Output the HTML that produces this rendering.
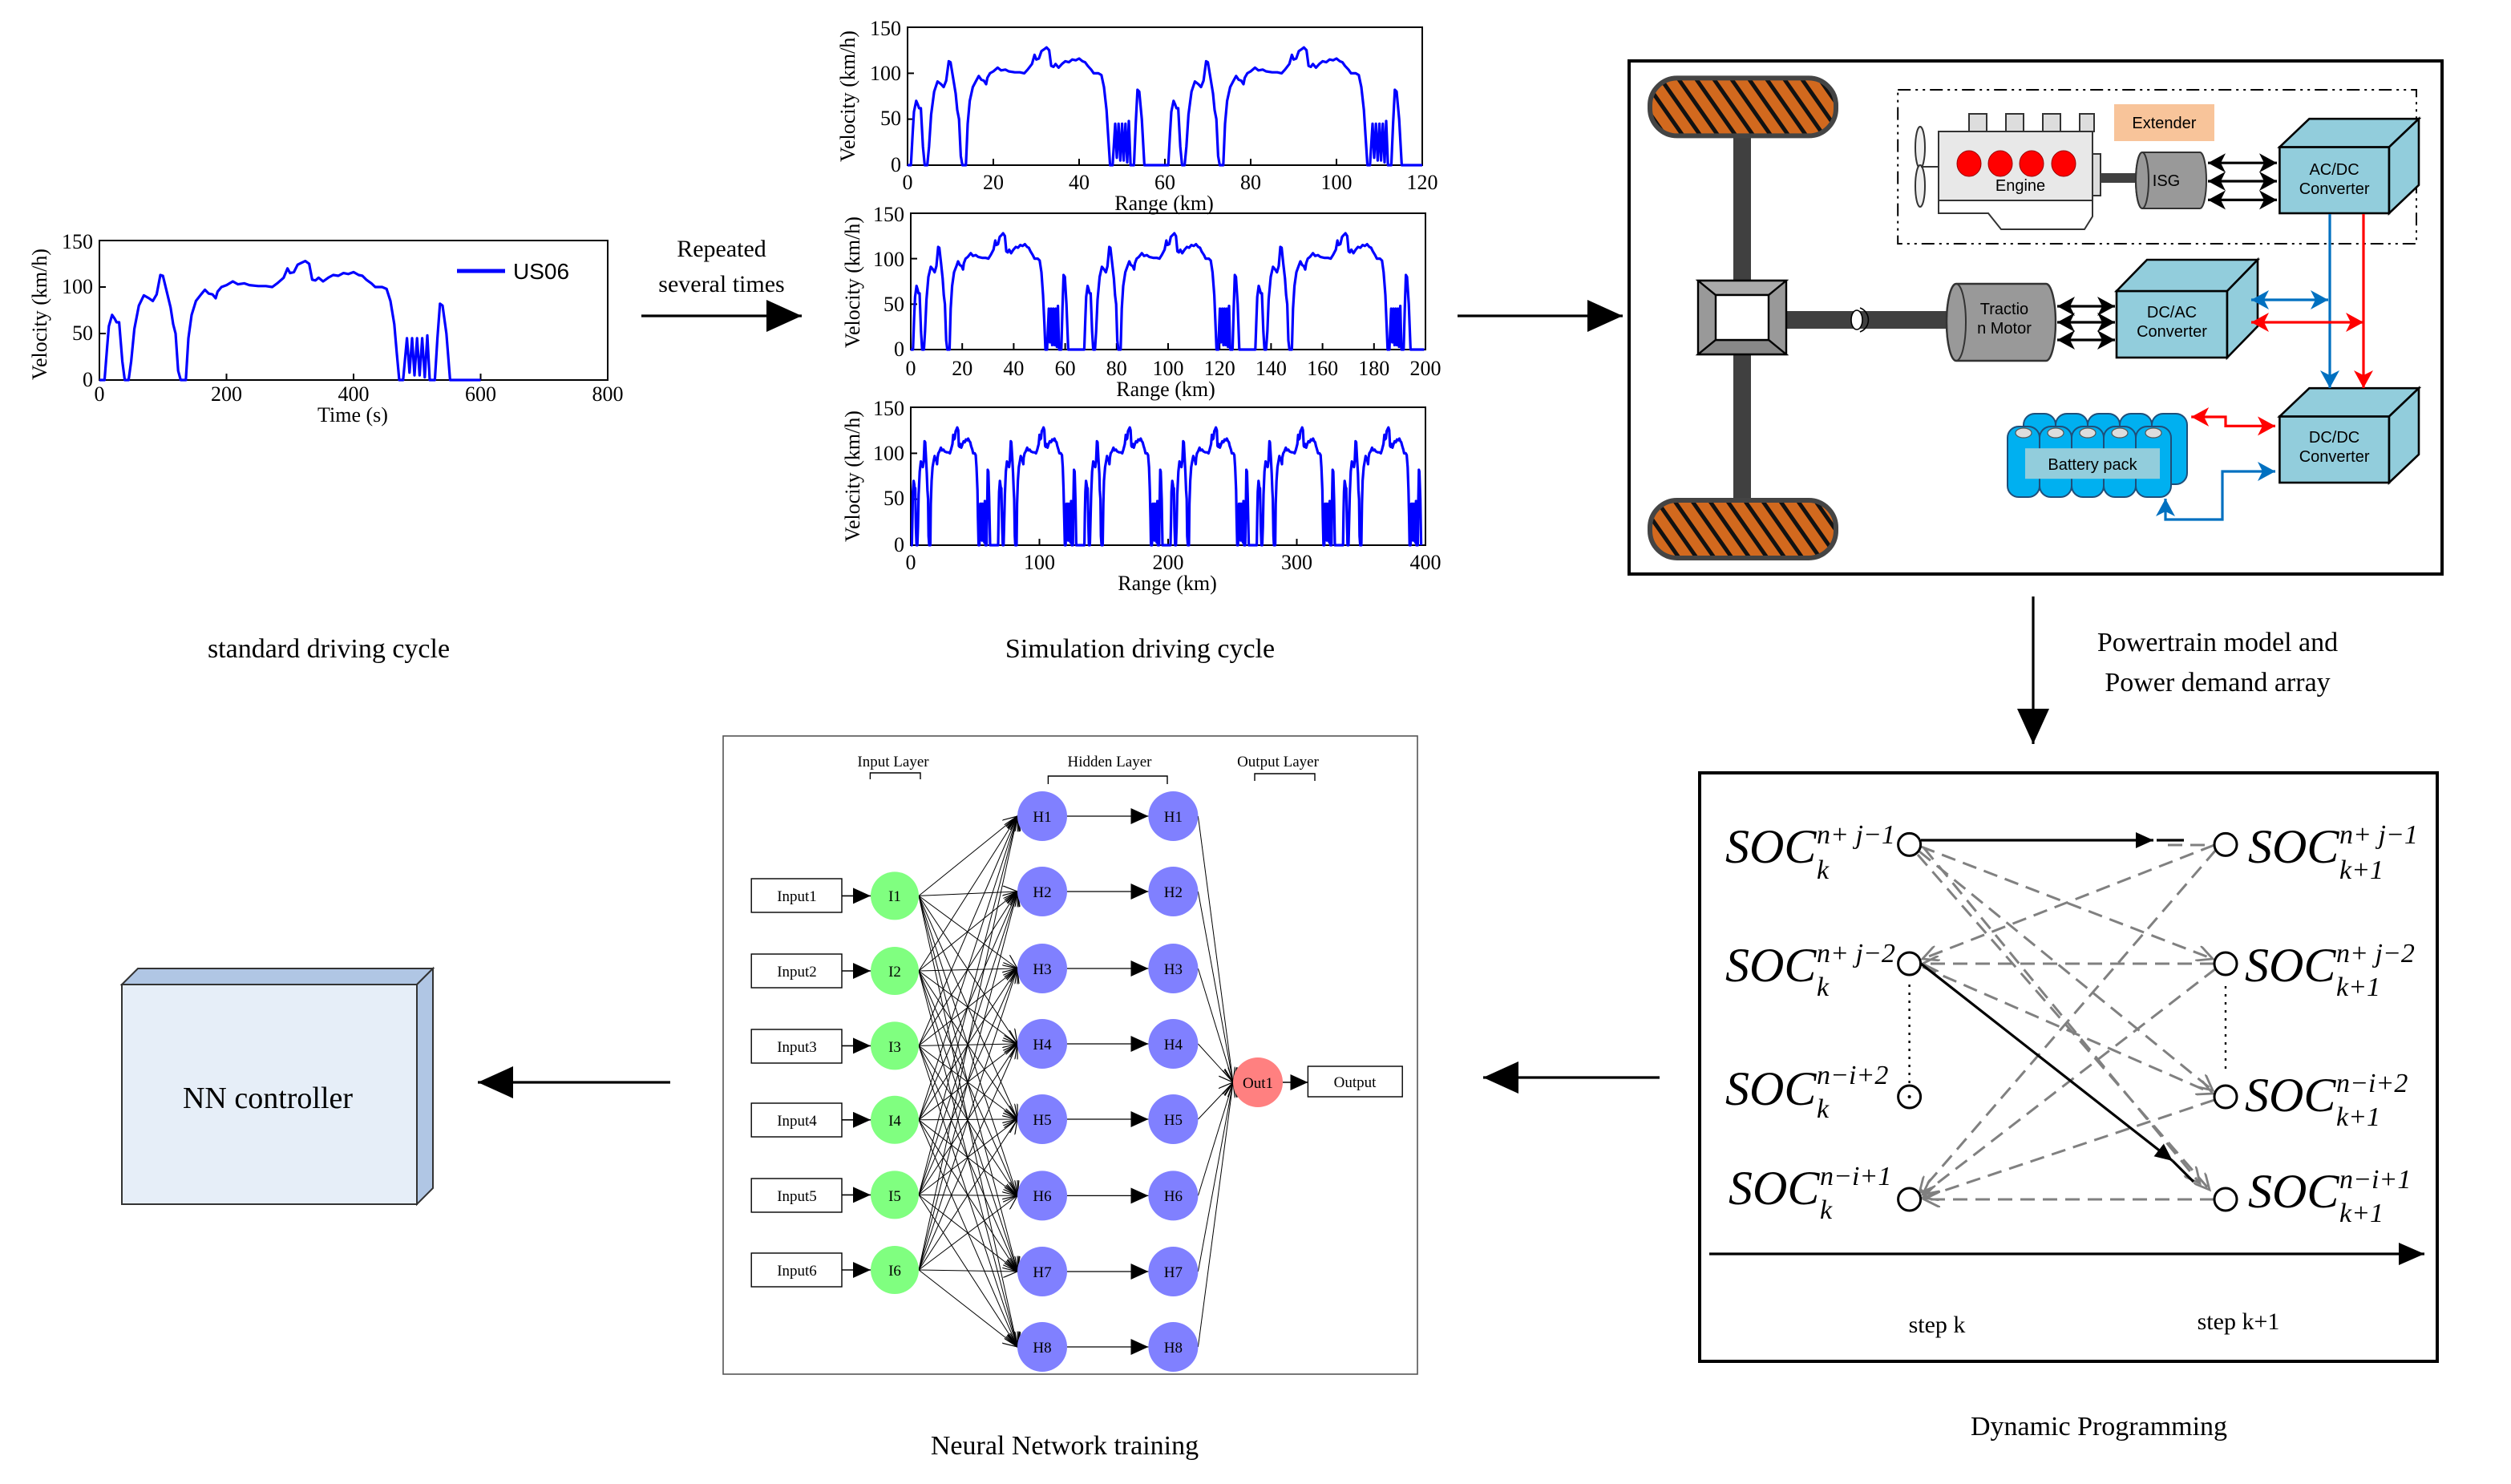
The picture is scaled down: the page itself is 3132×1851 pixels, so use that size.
<!DOCTYPE html>
<html><head><meta charset="utf-8"><style>
html,body{margin:0;padding:0;background:#fff}
svg{display:block}
.s{font-family:"Liberation Serif",serif}
.a{font-family:"Liberation Sans",sans-serif}
</style></head><body>
<svg id="R" width="3132" height="1851" viewBox="0 0 1566 925.5" xmlns="http://www.w3.org/2000/svg">
<defs>
<marker id="af" markerUnits="userSpaceOnUse" markerWidth="24" markerHeight="20" refX="22" refY="10" orient="auto"><path d="M0,0 L22,10 L0,20 Z" fill="#000"/></marker>
<marker id="as" markerUnits="userSpaceOnUse" markerWidth="12" markerHeight="10" refX="11" refY="5" orient="auto"><path d="M0,0 L11,5 L0,10 Z" fill="#000"/></marker>
<marker id="ao" markerUnits="userSpaceOnUse" markerWidth="10" markerHeight="8" refX="9" refY="4" orient="auto"><path d="M0,0 L9,4 L0,8" fill="none" stroke="#000" stroke-width="0.6"/></marker>
<marker id="ab" markerUnits="userSpaceOnUse" markerWidth="12" markerHeight="12" refX="11" refY="6" orient="auto-start-reverse"><path d="M0,0 L11,6 L0,12 L3,6 Z" fill="#0070C0"/></marker>
<marker id="ar" markerUnits="userSpaceOnUse" markerWidth="12" markerHeight="12" refX="11" refY="6" orient="auto-start-reverse"><path d="M0,0 L11,6 L0,12 L3,6 Z" fill="#f00"/></marker>
<marker id="ak" markerUnits="userSpaceOnUse" markerWidth="12" markerHeight="12" refX="11" refY="6" orient="auto-start-reverse"><path d="M0,0 L11,6 L0,12 L3,6 Z" fill="#000"/></marker>
<marker id="ag" markerUnits="userSpaceOnUse" markerWidth="12" markerHeight="10" refX="10" refY="5" orient="auto"><path d="M0,0 L10,5 L0,10" fill="none" stroke="#808080" stroke-width="1.4"/></marker>
<marker id="aD" markerUnits="userSpaceOnUse" markerWidth="18" markerHeight="14" refX="16" refY="7" orient="auto"><path d="M0,0 L16,7 L0,14 Z" fill="#000"/></marker>
<pattern id="hat" patternUnits="userSpaceOnUse" width="9" height="9" patternTransform="rotate(-35)"><rect width="9" height="9" fill="#D2691E"/><rect x="0" width="2.5" height="9" fill="#111"/></pattern>
</defs>

<g class="s" font-size="13">
<rect x="62" y="150" width="317" height="87" fill="none" stroke="#000" stroke-width="1"/>
<g stroke="#000" stroke-width="1"><line x1="141.25" y1="237" x2="141.25" y2="233"/><line x1="220.5" y1="237" x2="220.5" y2="233"/><line x1="299.75" y1="237" x2="299.75" y2="233"/><line x1="62" y1="208" x2="66" y2="208"/><line x1="62" y1="179" x2="66" y2="179"/></g>
<g text-anchor="middle"><text x="62" y="250">0</text><text x="141.25" y="250">200</text><text x="220.5" y="250">400</text><text x="299.75" y="250">600</text><text x="379" y="250">800</text><text x="220" y="263">Time (s)</text></g>
<g text-anchor="end"><text x="58" y="241">0</text><text x="58" y="212">50</text><text x="58" y="183">100</text><text x="58" y="155">150</text></g>
<text transform="translate(29,196) rotate(-90)" text-anchor="middle">Velocity (km/h)</text>
<line x1="285" y1="169" x2="315" y2="169" stroke="#0000FF" stroke-width="2.5"/>
<text x="320" y="174" class="a" font-size="14">US06</text>
</g>

<text x="450" y="160" class="s" font-size="15" text-anchor="middle">Repeated</text>
<text x="450" y="182" class="s" font-size="15" text-anchor="middle">several times</text>
<line x1="400" y1="197" x2="500" y2="197" stroke="#000" stroke-width="1.6" marker-end="url(#af)"/>
<text x="205" y="410" class="s" font-size="17" text-anchor="middle">standard driving cycle</text>

<g class="s" font-size="13">
<rect x="566" y="17" width="321" height="86" fill="none" stroke="#000"/>
<g stroke="#000"><line x1="619.5" y1="103" x2="619.5" y2="99"/><line x1="673" y1="103" x2="673" y2="99"/><line x1="726.5" y1="103" x2="726.5" y2="99"/><line x1="780" y1="103" x2="780" y2="99"/><line x1="833.5" y1="103" x2="833.5" y2="99"/><line x1="566" y1="74.3" x2="570" y2="74.3"/><line x1="566" y1="45.7" x2="570" y2="45.7"/></g>
<g text-anchor="middle"><text x="566" y="118">0</text><text x="619.5" y="118">20</text><text x="673" y="118">40</text><text x="726.5" y="118">60</text><text x="780" y="118">80</text><text x="833.5" y="118">100</text><text x="887" y="118">120</text><text x="726" y="131">Range (km)</text></g>
<g text-anchor="end"><text x="562" y="107">0</text><text x="562" y="78">50</text><text x="562" y="50">100</text><text x="562" y="22">150</text></g>
<text transform="translate(533,60) rotate(-90)" text-anchor="middle">Velocity (km/h)</text>
</g>
<g class="s" font-size="13">
<rect x="568" y="133" width="321" height="85" fill="none" stroke="#000"/>
<g stroke="#000"><line x1="600.1" y1="218" x2="600.1" y2="214"/><line x1="632.2" y1="218" x2="632.2" y2="214"/><line x1="664.3" y1="218" x2="664.3" y2="214"/><line x1="696.4" y1="218" x2="696.4" y2="214"/><line x1="728.5" y1="218" x2="728.5" y2="214"/><line x1="760.6" y1="218" x2="760.6" y2="214"/><line x1="792.7" y1="218" x2="792.7" y2="214"/><line x1="824.8" y1="218" x2="824.8" y2="214"/><line x1="856.9" y1="218" x2="856.9" y2="214"/><line x1="568" y1="189.7" x2="572" y2="189.7"/><line x1="568" y1="161.3" x2="572" y2="161.3"/></g>
<g text-anchor="middle"><text x="568" y="234">0</text><text x="600.1" y="234">20</text><text x="632.2" y="234">40</text><text x="664.3" y="234">60</text><text x="696.4" y="234">80</text><text x="728.5" y="234">100</text><text x="760.6" y="234">120</text><text x="792.7" y="234">140</text><text x="824.8" y="234">160</text><text x="856.9" y="234">180</text><text x="889" y="234">200</text><text x="727" y="247">Range (km)</text></g>
<g text-anchor="end"><text x="564" y="222">0</text><text x="564" y="194">50</text><text x="564" y="166">100</text><text x="564" y="138">150</text></g>
<text transform="translate(536,176) rotate(-90)" text-anchor="middle">Velocity (km/h)</text>
</g>
<g class="s" font-size="13">
<rect x="568" y="254" width="321" height="86" fill="none" stroke="#000"/>
<g stroke="#000"><line x1="648.25" y1="340" x2="648.25" y2="336"/><line x1="728.5" y1="340" x2="728.5" y2="336"/><line x1="808.75" y1="340" x2="808.75" y2="336"/><line x1="568" y1="311.3" x2="572" y2="311.3"/><line x1="568" y1="282.7" x2="572" y2="282.7"/></g>
<g text-anchor="middle"><text x="568" y="355">0</text><text x="648.25" y="355">100</text><text x="728.5" y="355">200</text><text x="808.75" y="355">300</text><text x="889" y="355">400</text><text x="728" y="368">Range (km)</text></g>
<g text-anchor="end"><text x="564" y="344">0</text><text x="564" y="315">50</text><text x="564" y="287">100</text><text x="564" y="259">150</text></g>
<text transform="translate(536,297) rotate(-90)" text-anchor="middle">Velocity (km/h)</text>
</g>
<g id="curves" fill="none" stroke="#0000FF" stroke-width="1.6" stroke-linejoin="round"></g>
<text x="711" y="410" class="s" font-size="17" text-anchor="middle">Simulation driving cycle</text>

<line x1="909" y1="197" x2="1012" y2="197" stroke="#000" stroke-width="1.6" marker-end="url(#af)"/>

<rect x="1016" y="38" width="507" height="320" fill="#fff" stroke="#000" stroke-width="2"/>
<rect x="1081" y="82" width="11" height="232" fill="#404040"/>
<rect x="1029" y="48.7" width="116" height="36" rx="17" fill="url(#hat)" stroke="#444" stroke-width="3"/>
<rect x="1029" y="312" width="116" height="36" rx="17" fill="url(#hat)" stroke="#444" stroke-width="3"/>
<rect x="1114" y="194" width="101" height="11" fill="#404040"/>
<ellipse cx="1158" cy="199.5" rx="3.5" ry="6" fill="#fff" stroke="#000" stroke-width="0.8"/>
<path d="M1160,192 A8,8 0 0 1 1160,207" fill="none" stroke="#000" stroke-width="0.8"/>
<g stroke="#000" stroke-width="1.2">
<rect x="1059" y="175" width="55" height="46" fill="#999"/>
<polygon points="1059,175 1114,175 1103,184 1070,184" fill="#aaa"/>
<polygon points="1059,221 1114,221 1103,212 1070,212" fill="#888"/>
<rect x="1070" y="184" width="33" height="28" fill="#fff"/>
</g>
<path d="M1220,177 L1276,177 A6,24 0 0 1 1276,225 L1220,225 A6,24 0 0 1 1220,177 Z" fill="#999" stroke="#333" stroke-width="1.2"/>
<ellipse cx="1220" cy="201" rx="6" ry="24" fill="none" stroke="#333" stroke-width="1"/>
<text x="1250" y="196" class="a" font-size="10" text-anchor="middle">Tractio</text>
<text x="1250" y="208" class="a" font-size="10" text-anchor="middle">n Motor</text>
<g stroke="#000" stroke-width="1.6" marker-end="url(#ak)" marker-start="url(#ak)"><line x1="1283" y1="191" x2="1319" y2="191"/><line x1="1283" y1="201" x2="1319" y2="201"/><line x1="1283" y1="212" x2="1319" y2="212"/></g>
<rect x="1183.6" y="56" width="323.4" height="96" fill="none" stroke="#000" stroke-width="1" stroke-dasharray="8,3,1.5,3,1.5,3"/>
<rect x="1318.5" y="65" width="62.5" height="23" fill="#F8C49A"/>
<text x="1349.7" y="80" class="a" font-size="10" text-anchor="middle">Extender</text>
<g stroke="#333" stroke-width="1">
<ellipse cx="1197.5" cy="92" rx="3" ry="13" fill="#eee"/><ellipse cx="1197.5" cy="116" rx="3" ry="13" fill="#eee"/>
<line x1="1198" y1="104" x2="1209" y2="104"/>
<rect x="1228" y="71" width="11" height="11" fill="#ddd"/><rect x="1251" y="71" width="11" height="11" fill="#ddd"/><rect x="1274" y="71" width="11" height="11" fill="#ddd"/><rect x="1297" y="71" width="9" height="11" fill="#ddd"/>
<path d="M1209,125 L1209,133 L1240,133 L1248,143 L1300,143 L1305,135 L1305,125 Z" fill="#fff"/>
<rect x="1209" y="82" width="96" height="43" fill="#e8e8e8"/>
<rect x="1305" y="96" width="5" height="26" fill="#ddd"/>
</g>
<g fill="#f00" stroke="#900" stroke-width="0.5"><ellipse cx="1228" cy="102" rx="7.5" ry="8"/><ellipse cx="1247.5" cy="102" rx="7.5" ry="8"/><ellipse cx="1267" cy="102" rx="7.5" ry="8"/><ellipse cx="1287" cy="102" rx="7.5" ry="8"/></g>
<text x="1260" y="119" class="a" font-size="10" text-anchor="middle">Engine</text>
<rect x="1310" y="108" width="24" height="6" fill="#404040"/>
<path d="M1336,95 L1372,95 A4,17.5 0 0 1 1372,130 L1336,130 A4,17.5 0 0 1 1336,95 Z" fill="#999" stroke="#333"/>
<ellipse cx="1336" cy="112.5" rx="4" ry="17.5" fill="none" stroke="#333"/>
<text x="1351" y="116" class="a" font-size="10" text-anchor="middle">ISG</text>
<g stroke="#000" stroke-width="1.6" marker-end="url(#ak)" marker-start="url(#ak)"><line x1="1377" y1="101.6" x2="1420" y2="101.6"/><line x1="1377" y1="113" x2="1420" y2="113"/><line x1="1377" y1="124.7" x2="1420" y2="124.7"/></g>
<g fill="#92CDDC" stroke="#000" stroke-width="1.3">
<rect x="1421.7" y="91.7" width="68.3" height="41.3"/><polygon points="1421.7,91.7 1440.2,74.1 1508.5,74.1 1490,91.7"/><polygon points="1490,91.7 1508.5,74.1 1508.5,115.4 1490,133"/>
<rect x="1320" y="181.5" width="69" height="41.5"/><polygon points="1320,181.5 1339,162 1408,162 1389,181.5"/><polygon points="1389,181.5 1408,162 1408,203.5 1389,223"/>
<rect x="1421.7" y="259.7" width="68.3" height="41.3"/><polygon points="1421.7,259.7 1440.2,242.1 1508.5,242.1 1490,259.7"/><polygon points="1490,259.7 1508.5,242.1 1508.5,283.4 1490,301"/>
</g>
<g class="a" font-size="10" text-anchor="middle">
<text x="1455.8" y="109">AC/DC</text><text x="1455.8" y="121">Converter</text>
<text x="1354.5" y="198">DC/AC</text><text x="1354.5" y="210">Converter</text>
<text x="1455.8" y="276">DC/DC</text><text x="1455.8" y="288">Converter</text>
</g>
<g fill="none" stroke-width="1.6">
<line x1="1453" y1="133.5" x2="1453" y2="242" stroke="#0070C0" marker-end="url(#ab)"/>
<line x1="1474" y1="133.5" x2="1474" y2="242" stroke="#f00" marker-end="url(#ar)"/>
<line x1="1452" y1="187" x2="1404" y2="187" stroke="#0070C0" marker-end="url(#ab)" marker-start="url(#ab)"/>
<line x1="1474" y1="201" x2="1404" y2="201" stroke="#f00" marker-end="url(#ar)" marker-start="url(#ar)"/>
<polyline points="1366.6,260 1388,260 1388,265.7 1419,265.7" stroke="#f00" marker-end="url(#ar)" marker-start="url(#ar)"/>
<polyline points="1419,294 1386,294 1386,324 1350.5,324 1350.5,311" stroke="#0070C0" marker-end="url(#ab)" marker-start="url(#ab)"/>
</g>
<g fill="#00B0F0" stroke="#1F4E79" stroke-width="1">
<rect x="1262" y="258" width="20" height="44" rx="7"/><rect x="1282" y="258" width="20" height="44" rx="7"/><rect x="1302" y="258" width="20" height="44" rx="7"/><rect x="1322" y="258" width="20" height="44" rx="7"/><rect x="1342" y="258" width="22" height="44" rx="7"/>
<rect x="1252" y="266" width="20" height="44" rx="7"/><rect x="1272" y="266" width="20" height="44" rx="7"/><rect x="1292" y="266" width="20" height="44" rx="7"/><rect x="1312" y="266" width="20" height="44" rx="7"/><rect x="1332" y="266" width="22" height="44" rx="7"/>
</g>
<g fill="#ddd" stroke="#555" stroke-width="0.6"><ellipse cx="1262" cy="270" rx="5" ry="3"/><ellipse cx="1282" cy="270" rx="5" ry="3"/><ellipse cx="1302" cy="270" rx="5" ry="3"/><ellipse cx="1322" cy="270" rx="5" ry="3"/><ellipse cx="1343" cy="270" rx="5" ry="3"/></g>
<rect x="1263" y="279.6" width="84" height="19" fill="#92CDDC"/>
<text x="1305" y="293" class="a" font-size="10" text-anchor="middle">Battery pack</text>

<line x1="1268" y1="372" x2="1268" y2="464" stroke="#000" stroke-width="1.6" marker-end="url(#af)"/>
<text x="1383" y="406" class="s" font-size="17" text-anchor="middle">Powertrain model and</text>
<text x="1383" y="431" class="s" font-size="17" text-anchor="middle">Power demand array</text>

<rect x="1060" y="482" width="460" height="367" fill="#fff" stroke="#000" stroke-width="2"/>
<g fill="none" stroke="#808080" stroke-width="1.5" stroke-dasharray="9,5" marker-end="url(#ag)">
<line x1="1198" y1="528" x2="1380" y2="598"/>
<line x1="1197" y1="531" x2="1380" y2="680"/>
<line x1="1196" y1="533" x2="1378" y2="742"/>
<line x1="1200" y1="529" x2="1372" y2="738"/>
<line x1="1381" y1="527" x2="1199" y2="598"/>
<line x1="1382" y1="530" x2="1197" y2="744"/>
<line x1="1381" y1="601" x2="1199" y2="601"/>
<line x1="1382" y1="604" x2="1199" y2="745"/>
<line x1="1199" y1="603" x2="1380" y2="682"/>
<line x1="1381" y1="686" x2="1199" y2="747"/>
<line x1="1381" y1="748" x2="1200" y2="748"/>
<line x1="1352" y1="527" x2="1380" y2="527" marker-end="none"/>
</g>
<line x1="1198" y1="524" x2="1343" y2="524" stroke="#000" stroke-width="1.6" marker-end="url(#as)"/>
<line x1="1345" y1="524" x2="1362" y2="524" stroke="#000" stroke-width="1.6"/>
<line x1="1198" y1="601" x2="1355" y2="724" stroke="#000" stroke-width="1.6" marker-end="url(#as)"/>
<line x1="1355" y1="724" x2="1368" y2="737" stroke="#000" stroke-width="1.6"/>
<g stroke="#000" stroke-width="1.2" stroke-dasharray="1.5,3.5"><line x1="1190.8" y1="614" x2="1190.8" y2="676"/><line x1="1388" y1="615" x2="1388" y2="670"/></g>
<g fill="#fff" stroke="#000" stroke-width="1.5">
<circle cx="1190.8" cy="526.7" r="7"/><circle cx="1190.8" cy="601" r="7"/><circle cx="1190.8" cy="684" r="7"/><circle cx="1190.8" cy="748" r="7"/>
<circle cx="1388" cy="526.7" r="7"/><circle cx="1388" cy="601" r="7"/><circle cx="1388" cy="684" r="7"/><circle cx="1388" cy="748" r="7"/>
</g>
<circle cx="1190.8" cy="684" r="1" fill="#000"/>
<g class="s" font-style="italic">
<text x="1076" y="538" font-size="30">SOC</text><text x="1133" y="526" font-size="17">n+ j−1</text><text x="1133" y="548" font-size="17">k</text>
<text x="1076" y="612" font-size="30">SOC</text><text x="1133" y="600" font-size="17">n+ j−2</text><text x="1133" y="621" font-size="17">k</text>
<text x="1076" y="689" font-size="30">SOC</text><text x="1133" y="676" font-size="17">n−i+2</text><text x="1133" y="697" font-size="17">k</text>
<text x="1078" y="751" font-size="30">SOC</text><text x="1135" y="739" font-size="17">n−i+1</text><text x="1135" y="760" font-size="17">k</text>
<text x="1402" y="538" font-size="30">SOC</text><text x="1459" y="526" font-size="17">n+ j−1</text><text x="1459" y="548" font-size="17">k+1</text>
<text x="1400" y="612" font-size="30">SOC</text><text x="1457" y="600" font-size="17">n+ j−2</text><text x="1457" y="621" font-size="17">k+1</text>
<text x="1400" y="693" font-size="30">SOC</text><text x="1457" y="681" font-size="17">n−i+2</text><text x="1457" y="702" font-size="17">k+1</text>
<text x="1402" y="753" font-size="30">SOC</text><text x="1459" y="741" font-size="17">n−i+1</text><text x="1459" y="762" font-size="17">k+1</text>
</g>
<line x1="1066" y1="782" x2="1512" y2="782" stroke="#000" stroke-width="1.6" marker-end="url(#aD)"/>
<text x="1208" y="831" class="s" font-size="15" text-anchor="middle">step k</text>
<text x="1396" y="829" class="s" font-size="15" text-anchor="middle">step k+1</text>
<text x="1309" y="895" class="s" font-size="17" text-anchor="middle">Dynamic Programming</text>

<line x1="1035" y1="672" x2="925" y2="672" stroke="#000" stroke-width="1.6" marker-end="url(#af)"/>

<rect x="451" y="459" width="433" height="398" fill="#fff" stroke="#555" stroke-width="0.8"/>
<g class="s" font-size="9.5" text-anchor="middle"><text x="557" y="478">Input Layer</text><text x="692" y="478">Hidden Layer</text><text x="797" y="478">Output Layer</text></g>
<g fill="none" stroke="#000" stroke-width="0.7"><path d="M542.7,486 V482 H574 V486"/><path d="M653.7,489 V484 H728 V489"/><path d="M782.5,487 V482.5 H820 V487"/></g>
<g id="nnedges"></g>
<g fill="#fff" stroke="#000" stroke-width="0.7">
<rect x="468.6" y="548" width="56.4" height="21"/><rect x="468.6" y="595" width="56.4" height="21"/><rect x="468.6" y="642" width="56.4" height="21"/><rect x="468.6" y="688" width="56.4" height="21"/><rect x="468.6" y="735" width="56.4" height="21"/><rect x="468.6" y="781.5" width="56.4" height="21"/>
<rect x="815.7" y="665" width="58.9" height="19"/>
</g>
<g fill="#80FF80"><circle cx="558" cy="558.7" r="15"/><circle cx="558" cy="605.5" r="15"/><circle cx="558" cy="652.2" r="15"/><circle cx="558" cy="698.4" r="15"/><circle cx="558" cy="745.2" r="15"/><circle cx="558" cy="792" r="15"/></g>
<g fill="#8080FF">
<circle cx="650" cy="509" r="15.5"/><circle cx="650" cy="556" r="15.5"/><circle cx="650" cy="604" r="15.5"/><circle cx="650" cy="651" r="15.5"/><circle cx="650" cy="698" r="15.5"/><circle cx="650" cy="745.7" r="15.5"/><circle cx="650" cy="793" r="15.5"/><circle cx="650" cy="840" r="15.5"/>
<circle cx="731.7" cy="509" r="15.5"/><circle cx="731.7" cy="556" r="15.5"/><circle cx="731.7" cy="604" r="15.5"/><circle cx="731.7" cy="651" r="15.5"/><circle cx="731.7" cy="698" r="15.5"/><circle cx="731.7" cy="745.7" r="15.5"/><circle cx="731.7" cy="793" r="15.5"/><circle cx="731.7" cy="840" r="15.5"/>
</g>
<circle cx="784.5" cy="675" r="15.5" fill="#FF8080"/>
<g class="s" font-size="9.5" text-anchor="middle">
<text x="497" y="562">Input1</text><text x="497" y="609">Input2</text><text x="497" y="656">Input3</text><text x="497" y="702">Input4</text><text x="497" y="749">Input5</text><text x="497" y="795.5">Input6</text>
<text x="558" y="562">I1</text><text x="558" y="609">I2</text><text x="558" y="656">I3</text><text x="558" y="702">I4</text><text x="558" y="749">I5</text><text x="558" y="795.5">I6</text>
<text x="650" y="512.5">H1</text><text x="650" y="559.5">H2</text><text x="650" y="607.5">H3</text><text x="650" y="654.5">H4</text><text x="650" y="701.5">H5</text><text x="650" y="749">H6</text><text x="650" y="796.5">H7</text><text x="650" y="843.5">H8</text>
<text x="731.7" y="512.5">H1</text><text x="731.7" y="559.5">H2</text><text x="731.7" y="607.5">H3</text><text x="731.7" y="654.5">H4</text><text x="731.7" y="701.5">H5</text><text x="731.7" y="749">H6</text><text x="731.7" y="796.5">H7</text><text x="731.7" y="843.5">H8</text>
<text x="784.5" y="678.5">Out1</text><text x="845" y="678">Output</text>
</g>
<text x="664" y="907" class="s" font-size="17" text-anchor="middle">Neural Network training</text>

<line x1="418" y1="675" x2="298" y2="675" stroke="#000" stroke-width="1.6" marker-end="url(#af)"/>

<g stroke="#333" stroke-width="1">
<polygon points="76,614 86,604 270,604 260,614" fill="#B0C6E4"/>
<polygon points="260,614 270,604 270,741 260,751" fill="#B0C6E4"/>
<rect x="76" y="614" width="184" height="137" fill="#E6EEF8"/>
</g>
<text x="167" y="691" class="s" font-size="19" text-anchor="middle">NN controller</text>
</svg>
<script>
(function(){
var NS="http://www.w3.org/2000/svg";
var P=[[0,0],[8,0],[12,35],[15,58],[20,70],[24,66],[27,62],[31,62],[36,20],[40,0],[46,0],[50,20],[55,55],[62,80],[70,91],[78,88],[84,85],[90,92],[96,113],[100,112],[106,95],[112,78],[116,60],[120,50],[124,10],[128,0],[136,0],[140,45],[145,70],[152,85],[160,92],[166,97],[172,93],[178,92],[183,88],[186,95],[192,100],[200,102],[210,106],[218,103],[228,104],[236,102],[250,101],[262,101],[272,100],[280,104],[290,110],[296,120],[300,115],[306,116],[312,124],[318,126],[324,128],[330,125],[335,108],[340,107],[345,110],[352,106],[360,110],[368,113],[376,112],[384,115],[392,114],[400,116],[408,113],[414,112],[420,108],[428,104],[434,100],[445,100],[452,98],[458,85],[464,60],[468,30],[472,0],[478,0],[484,45],[488,8],[492,45],[496,5],[500,45],[504,5],[508,45],[512,3],[516,48],[520,0],[528,0],[532,45],[536,82],[540,80],[546,50],[552,0],[600,0]];
var g=document.getElementById("curves");
function add(pts){var p=document.createElementNS(NS,"polyline");p.setAttribute("points",pts.join(" "));g.appendChild(p);}
function chart(x0,x1,y0,y1,xmax,per,reps){
 var pts=[];var sx=(x1-x0)/xmax,sy=(y0-y1)/150;
 for(var k=0;k<reps&&k*per<xmax;k++){for(var i=0;i<P.length;i++){var x=k*per+P[i][0]/600*per;if(x>xmax)break;pts.push((x0+x*sx).toFixed(1)+","+(y0-P[i][1]*sy).toFixed(1));}}
 add(pts);}
chart(62,379,237,150,800,600,1);
chart(566,887,103,17,120,60,9);
chart(568,889,218,133,200,66.5,9);
chart(568,889,340,254,400,67,9);
var e=document.getElementById("nnedges");
function ln(x1,y1,x2,y2,m,w){var l=document.createElementNS(NS,"line");l.setAttribute("x1",x1);l.setAttribute("y1",y1);l.setAttribute("x2",x2);l.setAttribute("y2",y2);l.setAttribute("stroke","#000");l.setAttribute("stroke-width",w||0.5);if(m)l.setAttribute("marker-end","url(#"+m+")");e.appendChild(l);}
var IY=[558.7,605.5,652.2,698.4,745.2,792],HY=[509,556,604,651,698,745.7,793,840];
IY.forEach(function(y){ln(525,y,543,y,"as",0.8);HY.forEach(function(h){ln(573,y,634.5,h,"ao",0.5);});});
HY.forEach(function(h){ln(665.5,h,716.2,h,"as",0.6);ln(747.2,h,769,675,"ao",0.5);});
ln(800,675,815.7,675,"as",0.8);
})();
</script>
</body></html>
